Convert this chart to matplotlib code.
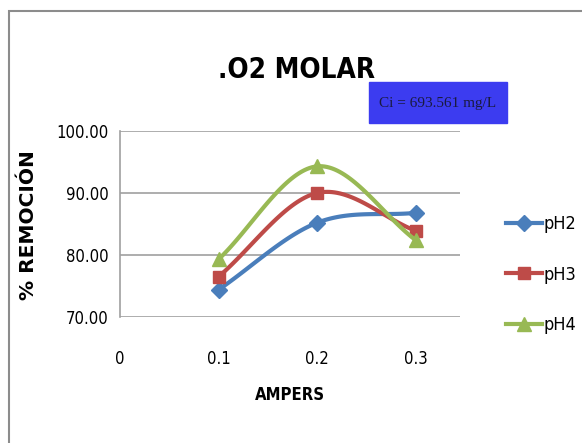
import numpy as np
import matplotlib
matplotlib.use("Agg")
import matplotlib.pyplot as plt
from matplotlib.patches import Rectangle

# data
amperes = [0.1, 0.2, 0.3]
ph2 = [74.4, 85.2, 86.8]
ph3 = [76.5, 90.0, 83.9]
ph4 = [79.3, 94.3, 82.4]
series_names = ["pH2", "pH3", "pH4"]
x_ticks = [0, 0.1, 0.2, 0.3]
y_ticks = [70, 80, 90, 100]

colors = ["#4a7ebb", "#be4b48", "#98b954"]
markers = ["D", "s", "^"]
marker_sizes = [8, 9, 10]

narrow = ["Liberation Sans Narrow", "DejaVu Sans"]


def smooth(xs, ys, n=40):
    # catmull-rom through the points, like the spreadsheet "smoothed line"
    xs = np.asarray(xs, float)
    ys = np.asarray(ys, float)
    px = np.concatenate([[2 * xs[0] - xs[1]], xs, [2 * xs[-1] - xs[-2]]])
    py = np.concatenate([[2 * ys[0] - ys[1]], ys, [2 * ys[-1] - ys[-2]]])
    out_x, out_y = [], []
    for i in range(1, len(px) - 2):
        t = np.linspace(0, 1, n)
        for arr, out in ((px, out_x), (py, out_y)):
            p0, p1, p2, p3 = arr[i - 1], arr[i], arr[i + 1], arr[i + 2]
            out.extend(0.5 * (2 * p1 + (-p0 + p2) * t
                              + (2 * p0 - 5 * p1 + 4 * p2 - p3) * t ** 2
                              + (-p0 + 3 * p1 - 3 * p2 + p3) * t ** 3))
    return np.array(out_x), np.array(out_y)


fig = plt.figure(figsize=(5.82, 4.43), dpi=100)
W, H = 582, 443

# outer chart frame
fig.patches.append(Rectangle((9 / W, -0.05), 1.1, (H - 11) / H + 0.05,
                             transform=fig.transFigure, fill=False,
                             edgecolor="#8c8c8c", linewidth=1.5))

ax = fig.add_axes([120 / W, 1 - 317 / H, 340 / W, 186 / H])

for ys, name, c, m, ms in zip([ph2, ph3, ph4], series_names, colors, markers, marker_sizes):
    sx, sy = smooth(amperes, ys)
    ax.plot(sx, sy, color=c, linewidth=3, solid_capstyle="round")
    ax.plot(amperes, ys, linestyle="none", marker=m, markersize=ms, color=c)
    # legend handle
    ax.plot([], [], color=c, linewidth=3, marker=m, markersize=ms, label=name)

ax.set_xlim(0, 0.345)
ax.set_ylim(70, 100)
ax.set_xticks(x_ticks)
ax.set_xticklabels(["0", "0.1", "0.2", "0.3"], fontsize=12, family=narrow,
                   stretch="condensed")
ax.set_yticks(y_ticks)
ax.set_yticklabels(["%.2f" % v for v in y_ticks], fontsize=12, family=narrow,
                   stretch="condensed")
ax.tick_params(length=0, pad=8)
ax.tick_params(axis="x", pad=24)
ax.grid(axis="y", color="#a0a0a0", linewidth=1.2)
ax.set_axisbelow(True)
for s in ["top", "right", "bottom"]:
    ax.spines[s].set_visible(False)
ax.spines["left"].set_color("#a0a0a0")
ax.spines["left"].set_linewidth(1.2)

ax.set_xlabel("AMPERS", fontsize=12, fontweight="bold", family=narrow,
              stretch="condensed")
ax.xaxis.set_label_coords(0.5, -(386 - 317) / 186, transform=ax.transAxes)
ax.set_ylabel("% REMOCIÓN", fontsize=14.5, fontweight="bold")
ax.yaxis.set_label_coords(-(120 - 38) / 340, (317 - 225) / 186)

leg = ax.legend(loc="upper left", bbox_to_anchor=(497 / W, 1 - 206 / H),
                bbox_transform=fig.transFigure, frameon=False,
                prop={"family": narrow, "size": 13, "stretch": "condensed"},
                handlelength=2.0, handletextpad=0.1, labelspacing=1.8,
                borderpad=0)

fig.text(297 / W, 1 - 70 / H, ".O2 MOLAR", ha="center", va="center",
         fontsize=20, fontweight="bold", family=narrow, stretch="condensed")

fig.patches.append(Rectangle((369 / W, 1 - 123 / H), 138 / W, 41 / H,
                             transform=fig.transFigure, facecolor="#3c3cf0",
                             edgecolor="#3c3cf0"))
fig.text(438 / W, 1 - 103 / H, "Ci = 693.561 mg/L", ha="center", va="center",
         fontsize=11, family="Liberation Serif", color="#1a1a40")

fig.savefig("out.png", dpi=100)
